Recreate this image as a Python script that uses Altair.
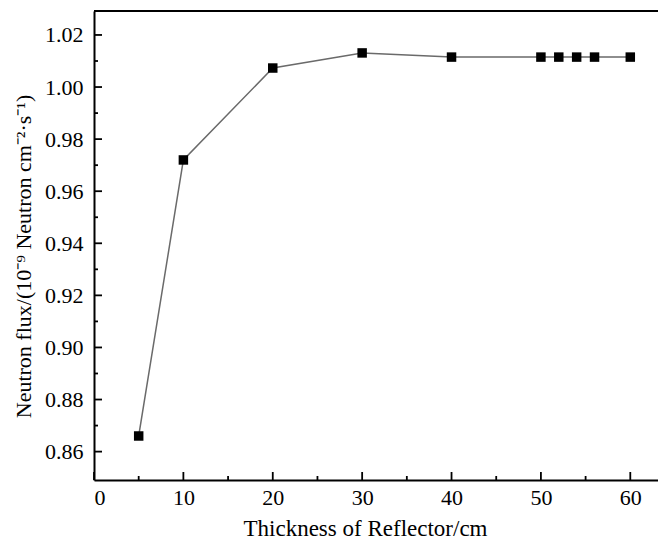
import altair as alt
import pandas as pd

thickness = [5, 10, 20, 30, 40, 50, 52, 54, 56, 60]
flux = [0.866, 0.972, 1.0073, 1.0131, 1.0115, 1.0115, 1.0115, 1.0115, 1.0115, 1.0115]

x_major = [0, 10, 20, 30, 40, 50, 60]
x_minor = [5, 15, 25, 35, 45, 55]
y_major = [0.86, 0.88, 0.90, 0.92, 0.94, 0.96, 0.98, 1.00, 1.02]
y_minor = [0.87, 0.89, 0.91, 0.93, 0.95, 0.97, 0.99, 1.01]

W, H = 564, 469
FONT = "Liberation Serif"

xs = alt.Scale(domain=[0, 63.1], nice=False, zero=False)
ys = alt.Scale(domain=[0.8491, 1.0292], nice=False, zero=False)

df = pd.DataFrame({"t": thickness, "f": flux})

xaxis = alt.Axis(values=x_major, format="d", ticks=False, grid=False, domain=True,
                 domainColor="black", domainWidth=2, labelFont=FONT, labelFontSize=22,
                 labelColor="black", labelPadding=7, title="Thickness of Reflector/cm",
                 titleFont=FONT, titleFontSize=23, titleFontWeight="normal",
                 titleColor="black", titleBaseline="alphabetic", titleY=55,
                 titleX=271, titleAnchor="middle")
yaxis = alt.Axis(values=y_major, format=".2f", ticks=False, grid=False, domain=True,
                 domainColor="black", domainWidth=2, labelFont=FONT, labelFontSize=22,
                 labelColor="black", labelPadding=11,
                 title="Neutron flux/(10⁻⁹ Neutron cm⁻²·s⁻¹)",
                 titleFont=FONT, titleFontSize=22, titleFontWeight="normal",
                 titleColor="black", titleBaseline="alphabetic", titleX=-64, titleY=245,
                 titleAngle=270)

line = alt.Chart(df).mark_line(color="#6a6a6a", strokeWidth=1.5).encode(
    x=alt.X("t:Q", scale=xs, axis=xaxis),
    y=alt.Y("f:Q", scale=ys, axis=yaxis),
)
pts = alt.Chart(df).mark_point(shape="square", filled=True, color="black", size=90, opacity=1).encode(
    x=alt.X("t:Q", scale=xs), y=alt.Y("f:Q", scale=ys)
)

xmaj = alt.Chart(pd.DataFrame({"v": x_major})).mark_rule(color="black", strokeWidth=1.8).encode(
    x=alt.X("v:Q", scale=xs), y=alt.value(H), y2=alt.value(H - 8))
xmin = alt.Chart(pd.DataFrame({"v": x_minor})).mark_rule(color="black", strokeWidth=1.8).encode(
    x=alt.X("v:Q", scale=xs), y=alt.value(H), y2=alt.value(H - 4))
ymaj = alt.Chart(pd.DataFrame({"v": y_major})).mark_rule(color="black", strokeWidth=1.8).encode(
    y=alt.Y("v:Q", scale=ys), x=alt.value(0), x2=alt.value(8))
ymin = alt.Chart(pd.DataFrame({"v": y_minor})).mark_rule(color="black", strokeWidth=1.8).encode(
    y=alt.Y("v:Q", scale=ys), x=alt.value(0), x2=alt.value(4))
top = alt.Chart(pd.DataFrame({"a": [0]})).mark_rule(color="black", strokeWidth=2).encode(
    x=alt.value(0), x2=alt.value(W), y=alt.value(0))

chart = alt.layer(line, xmaj, xmin, ymaj, ymin, top, pts).properties(
    width=W, height=H,
    autosize=alt.AutoSizeParams(type="none"),
    padding={"left": 86, "top": 3, "right": 0, "bottom": 61},
).configure_view(strokeWidth=0).configure(background="white")

chart.save("out.html", embed_options={"renderer": "svg", "actions": False})
